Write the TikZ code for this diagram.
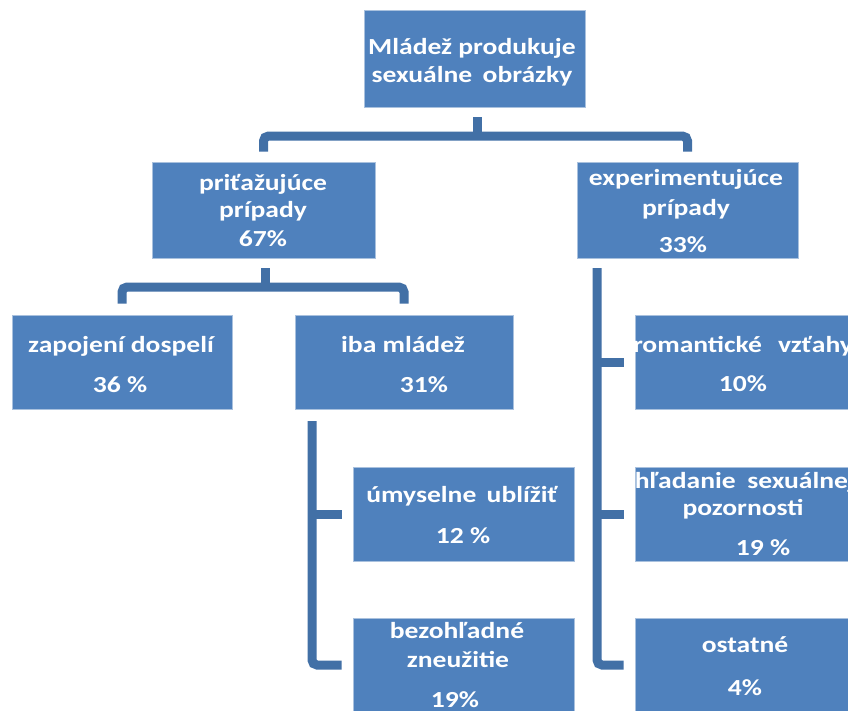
\documentclass[tikz,border=0pt]{standalone}
\usepackage{fontspec}
\setmainfont{Carlito}[FakeStretch=1.2]
\usetikzlibrary{calc}
\definecolor{boxblue}{HTML}{4F81BD}
\definecolor{boxedge}{HTML}{A9C1DE}
\definecolor{connblue}{HTML}{4270A6}
\begin{document}
\begin{tikzpicture}[x=1pt,y=-1pt,
  box/.style={rectangle, fill=boxblue, draw=boxedge, line width=0.6pt, inner sep=0pt},
  conn/.style={draw=connblue, line width=9pt, rounded corners=5pt},
  lbl/.style={text=white, font=\fontsize{23}{27}\selectfont\bfseries, inner sep=0pt, anchor=base}]
\useasboundingbox (0,0) rectangle (848,710);
\fill[white] (0,0) rectangle (848,710);
% boxes
\node[box, minimum width=221pt, minimum height=97pt] (top) at (474.5,58.5) {};
\node[box, minimum width=223pt, minimum height=96pt] (pri) at (263.5,210) {};
\node[box, minimum width=221pt, minimum height=96pt] (exp) at (687.5,210) {};
\node[box, minimum width=220pt, minimum height=94pt] (zap) at (122,362) {};
\node[box, minimum width=218pt, minimum height=94pt] (iba) at (404,362) {};
\node[box, minimum width=220pt, minimum height=94pt] (rom) at (745,362) {};
\node[box, minimum width=221pt, minimum height=94pt] (umy) at (463.5,514) {};
\node[box, minimum width=220pt, minimum height=94pt] (hla) at (745,514) {};
\node[box, minimum width=221pt, minimum height=94pt] (bez) at (463.5,665) {};
\node[box, minimum width=220pt, minimum height=94pt] (ost) at (745,665) {};
% connectors
\coordinate (b1) at (477,136);
\draw[conn] ($(top.south)+(2.5,10)$) -- (b1);
\draw[conn] ($(pri.north)+(0,-10)$) -- (pri.north |- b1) -- (exp.north |- b1) -- ($(exp.north)+(0,-10)$);
\coordinate (b2) at (265,287);
\draw[conn] ($(pri.south)+(1.5,10)$) -- (b2);
\draw[conn] ($(zap.north)+(0,-11)$) -- (zap.north |- b2) -- (iba.north |- b2) -- ($(iba.north)+(0,-11)$);
\coordinate (v1) at (312,421);
\draw[conn] (v1) -- (v1 |- bez.west) -- ($(bez.west)+(-11,0)$);
\draw[conn] (v1 |- umy.west) -- ($(umy.west)+(-11,0)$);
\coordinate (v2) at (597,268);
\draw[conn] (v2) -- (v2 |- ost.west) -- ($(ost.west)+(-11,0)$);
\draw[conn] (v2 |- rom.west) -- ($(rom.west)+(-11,0)$);
\draw[conn] (v2 |- hla.west) -- ($(hla.west)+(-11,0)$);
% texts
\node[lbl] (t1) at (472,54) {Mládež produkuje};
\node[lbl] (t2) at (472,82) {sexuálne\hspace{0.45em}obrázky};
\node[lbl] (p1) at (263,190) {priťažujúce};
\node[lbl] (p2) at (263,217) {prípady};
\node[lbl] (p3) at (263,246) {67\%};
\node[lbl] (e1) at (686,185) {experimentujúce};
\node[lbl] (e2) at (686,215) {prípady};
\node[lbl] (e3) at (683,252) {33\%};
\node[lbl] (z1) at (121,352) {zapojení dospelí};
\node[lbl] (z2) at (120,392) {36 \%};
\node[lbl] (i1) at (403,352) {iba mládež};
\node[lbl] (i2) at (424,392) {31\%};
\node[lbl] (u1) at (462,502) {úmyselne\hspace{0.45em}ublížiť};
\node[lbl] (u2) at (463,543) {12 \%};
\node[lbl] (bz1) at (457,638) {bezohľadné};
\node[lbl] (bz2) at (458,667) {zneužitie};
\node[lbl] (bz3) at (455,707) {19\%};
\begin{scope}
\clip (rom.south west) rectangle (rom.north east);
\node[lbl] (r1) at (743,352) {romantické\hspace{0.7em}vzťahy};
\node[lbl] (r2) at (743,391) {10\%};
\end{scope}
\begin{scope}
\clip (hla.south west) rectangle (hla.north east);
\node[lbl] (h1) at (745,488) {hľadanie\hspace{0.5em}sexuálnej};
\node[lbl] (h2) at (743,515) {pozornosti};
\node[lbl] (h3) at (763,555) {19 \%};
\end{scope}
\begin{scope}
\clip (ost.south west) rectangle (ost.north east);
\node[lbl] (o1) at (745,652) {ostatné};
\node[lbl] (o2) at (745,695) {4\%};
\end{scope}
\end{tikzpicture}
\end{document}
